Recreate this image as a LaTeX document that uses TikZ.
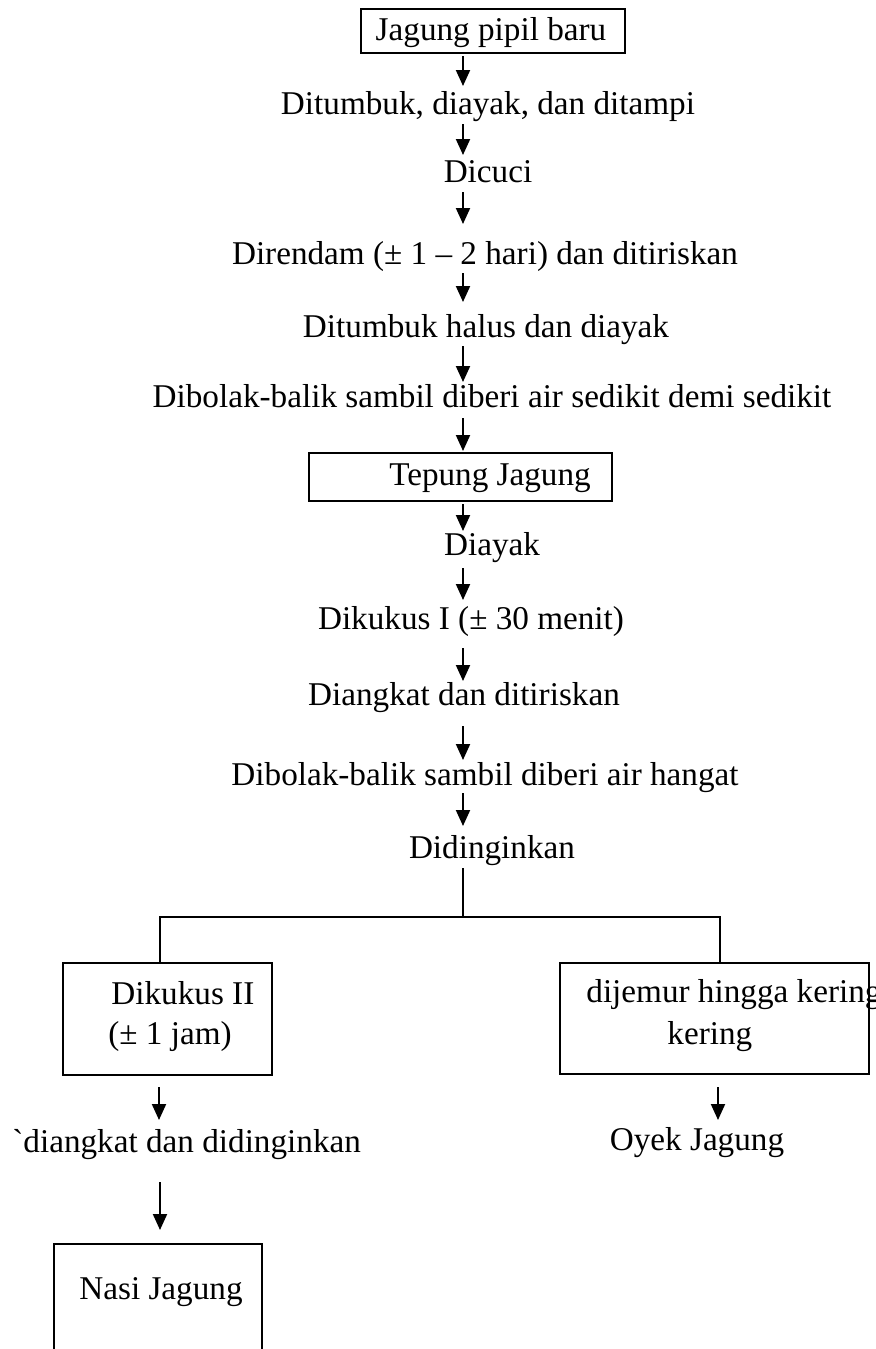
\documentclass[tikz,border=0pt]{standalone}
\usepackage{fontspec}
\setmainfont{Liberation Serif}
\usetikzlibrary{arrows.meta}
\begin{document}
\begin{tikzpicture}[x=0.5pt,y=-0.5pt,
  txt/.style={inner sep=0pt,font=\fontsize{16.6}{19}\selectfont},
  flow/.style={line width=1pt,-{Triangle[length=8pt,width=7pt]}},
  ln/.style={line width=1pt},
  boxline/.style={line width=1pt}]
\useasboundingbox (0,0) rectangle (875,1349);
% top box
\draw[boxline] (361,9) rectangle (625,53);
\node[txt,anchor=base] (t1) at (491,40) {Jagung pipil baru};
\node[txt,anchor=base] (t2) at (488,114) {Ditumbuk, diayak, dan ditampi};
\node[txt,anchor=base] (t3) at (488,182) {Dicuci};
\node[txt,anchor=base] (t4) at (485,264) {Direndam (± 1 – 2 hari) dan ditiriskan};
\node[txt,anchor=base] (t5) at (486,337) {Ditumbuk halus dan diayak};
\node[txt,anchor=base] (t6) at (492,407) {Dibolak-balik sambil diberi air sedikit demi sedikit};
\draw[boxline] (309,453) rectangle (612,501);
\node[txt,anchor=base] (t7) at (490,485) {Tepung Jagung};
\node[txt,anchor=base] (t8) at (492,555) {Diayak};
\node[txt,anchor=base] (t9) at (471,629) {Dikukus I (± 30 menit)};
\node[txt,anchor=base] (t10) at (464,705) {Diangkat dan ditiriskan};
\node[txt,anchor=base] (t11) at (485,785) {Dibolak-balik sambil diberi air hangat};
\node[txt,anchor=base] (t12) at (492,858) {Didinginkan};
% branch boxes
\draw[boxline] (63,963) rectangle (272,1075);
\node[txt,anchor=base west] (t13) at (111,1004) {Dikukus II};
\node[txt,anchor=base west] (t14) at (108,1044) {(± 1 jam)};
\draw[boxline] (560,963) rectangle (869,1074);
\node[txt,anchor=base west] (t15) at (586,1002) {dijemur hingga kering};
\node[txt,anchor=base west] (t16) at (667,1044) {kering};
\node[txt,anchor=base west] (t17) at (12,1152) {\textasciigrave diangkat dan didinginkan};
\node[txt,anchor=base] (t18) at (697,1150) {Oyek Jagung};
\draw[boxline] (54,1349) -- (54,1244) -- (262,1244) -- (262,1349);
\node[txt,anchor=base] (t19) at (161,1299) {Nasi Jagung};
% arrow coordinates
\foreach \n/\a/\b in {1/56/86, 2/124/155, 3/192/224, 4/273/302, 5/346/382, 6/418/451, 7/504/531, 8/568/600, 9/648/681, 10/726/760, 11/793/826}{
  \coordinate (s\n) at (463,\a);
  \coordinate (e\n) at (463,\b);
}
\foreach \n in {1,...,11}{\draw[flow] (s\n) -- (e\n);}
% branch connector
\coordinate (j0) at (463,868);
\coordinate (j1) at (463,917);
\coordinate (jl) at (160,917);
\coordinate (jr) at (720,917);
\coordinate (bl) at (160,963);
\coordinate (br) at (720,963);
\draw[ln] (j0) -- (j1);
\draw[ln] (bl) -- (jl) -- (jr) -- (br);
% lower arrows
\coordinate (la1) at (159,1087); \coordinate (la2) at (159,1120);
\coordinate (la3) at (160,1182); \coordinate (la4) at (160,1230);
\coordinate (ra1) at (718,1087); \coordinate (ra2) at (718,1120);
\draw[flow] (la1) -- (la2);
\draw[flow] (la3) -- (la4);
\draw[flow] (ra1) -- (ra2);
\end{tikzpicture}
\end{document}
